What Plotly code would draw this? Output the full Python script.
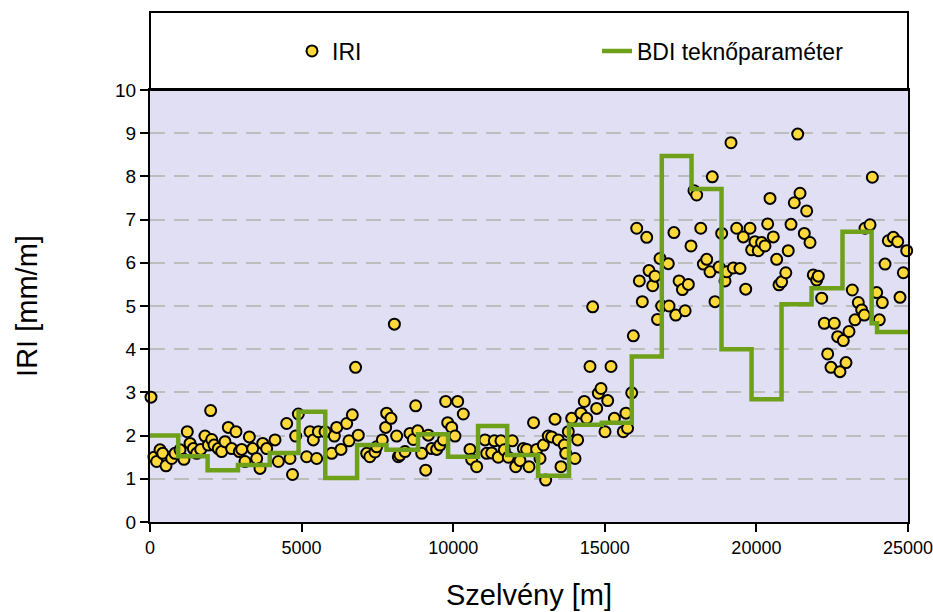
import plotly.graph_objects as go

# IRI measurements: chainage [m] and IRI [mm/m]
iri_x = [33, 132, 220, 330, 418, 528, 715, 825, 990, 1121, 1230, 1320, 1430, 1540, 1672, 1814, 1924, 2000, 2035, 2111,
         2253, 2363, 2473, 2583, 2693, 2836, 2946, 3024, 3133, 3276, 3386, 3518, 3628, 3717, 3848,
         4123, 4233, 4508, 4617, 4700, 4804, 4892, 5167, 5277, 5387, 5497, 5552, 5772, 5992, 6080, 6157, 6300,
         6487, 6563, 6673, 6780, 6870, 7147, 7250, 7420, 7475, 7662, 7772, 7805, 7948, 8060, 8135, 8190,
         8245, 8410, 8575, 8685, 8762, 8830, 8961, 9093, 9181, 9291, 9456, 9565, 9675, 9752, 9818, 9950, 10059,
         10148, 10333, 10554, 10609, 10774, 11049, 11104, 11269, 11357, 11487, 11576, 11685, 11817, 11949, 12061,
         12203, 12313, 12423, 12500, 12650, 12753, 12863, 12972, 13050, 13137, 13247, 13358, 13467, 13555, 13665,
         13710, 13797, 13908, 14017, 14105, 14215, 14324, 14402, 14512, 14600, 14732, 14787, 14875, 15007, 15095,
         15205, 15316, 15610, 15698, 15750, 15887, 15941,
         16052, 16139, 16237, 16382, 16458, 16580, 16655, 16740, 16821, 16876, 17094, 17118, 17280, 17340, 17450,
         17560, 17650, 17755, 17843, 17942, 18030, 18165, 18250, 18361, 18470, 18545, 18635, 18770, 18855, 18964,
         19020, 19162, 19238, 19349, 19459, 19568, 19647, 19789, 19843, 19953, 20062, 20172, 20283, 20372, 20449,
         20557, 20668, 20745, 20833, 20970, 21050,
         21141, 21250, 21362, 21438, 21580, 21658, 21768, 21877, 21987, 22042, 22153, 22240, 22351, 22460, 22570,
         22681, 22757, 22867, 22955, 23054, 23163, 23252, 23361, 23473, 23559, 23582, 23747, 23824, 23967, 24054,
         24153, 24242, 24351, 24516, 24660, 24736, 24846, 24957]
iri_y = [2.89, 1.50, 1.40, 1.67, 1.59, 1.30, 1.47, 1.59, 1.67, 1.45, 2.09, 1.82, 1.70, 1.59, 1.68, 1.99, 1.78, 2.58, 1.91, 1.78,
         1.70, 1.63, 1.86, 2.19, 1.70, 2.09, 1.63, 1.68, 1.40, 1.97, 1.70, 1.47, 1.24, 1.82, 1.70,
         1.90, 1.40, 2.28, 1.47, 1.10, 1.99, 2.50, 1.51, 2.09, 1.90, 1.47, 2.09, 2.09, 1.59, 1.99, 2.19, 1.68,
         2.28, 1.88, 2.48, 3.58, 2.01, 1.59, 1.51, 1.62, 1.74, 1.90, 2.19, 2.52, 2.40, 4.58, 1.99, 1.51,
         1.55, 1.63, 2.05, 1.91, 2.69, 2.11, 1.59, 1.20, 2.01, 1.70, 1.68, 1.78, 1.90, 2.79, 2.30, 2.19, 1.99,
         2.79, 2.50, 1.68, 1.45, 1.28, 1.90, 1.59, 1.60, 1.88, 1.50, 1.88, 1.67, 1.50, 1.88, 1.28,
         1.42, 1.70, 1.68, 1.28, 2.30, 1.68, 1.47, 1.78, 0.97, 1.99, 1.97, 2.38, 1.90, 1.28, 1.78,
         1.59, 2.09, 2.40, 1.47, 1.90, 2.52, 2.79, 2.40, 3.60, 4.98, 2.63, 2.98, 3.09, 2.09, 2.81,
         3.60, 2.40, 2.09, 2.52, 2.17, 2.99, 4.31,
         6.80, 5.58, 5.10, 6.59, 5.82, 5.47, 5.69, 4.69, 6.10, 5.00, 5.98, 5.00, 6.70, 4.79, 5.58,
         5.38, 4.89, 5.50, 6.39, 7.67, 7.57, 6.80, 5.97, 6.08, 5.79, 7.99, 5.10, 5.90, 6.68, 5.58,
         5.79, 8.78, 5.88, 6.80, 5.87, 6.60, 5.39, 6.80, 6.30, 6.49, 6.28, 6.47, 6.39, 6.90, 7.49,
         6.60, 6.08, 5.49, 5.56, 5.77, 6.28,
         6.89, 7.39, 8.98, 7.61, 6.68, 7.20, 6.47, 5.72, 5.60, 5.69, 5.18, 4.60, 3.89, 3.58, 4.60,
         4.29, 3.48, 4.20, 3.69, 4.41, 5.37, 4.68, 5.08, 4.91, 4.79, 6.80, 6.88, 7.98, 5.31, 4.68,
         5.08, 5.97, 6.51, 6.59, 6.49, 5.20, 5.77, 6.28]

# BDI trough parameter: section start chainage [m] and value
bdi_x = [0, 930, 1900, 2900, 3950, 4900, 5780, 6830, 7800, 8840, 9830, 10820, 11780, 12800, 13820, 14900,
         15890, 16880, 17860, 18850, 19840, 20830, 21820, 22840, 23800, 23980, 25000]
bdi_y = [2.0, 1.52, 1.2, 1.32, 1.6, 2.55, 1.02, 1.78, 1.67, 2.03, 1.51, 2.22, 1.55, 1.07, 2.25, 2.3,
         3.83, 8.47, 7.71, 4.0, 2.84, 5.04, 5.41, 6.72, 4.6, 4.4, 4.4]

x_ticks = [0, 5000, 10000, 15000, 20000, 25000]
y_ticks = list(range(0, 11))

FONT = "Liberation Sans, Arial, sans-serif"

fig = go.Figure()
fig.add_trace(go.Scatter(
    x=iri_x, y=iri_y, mode="markers", name="IRI", cliponaxis=False,
    marker=dict(size=11, color="#FFD83A", line=dict(color="black", width=2)),
))
fig.add_trace(go.Scatter(
    x=bdi_x, y=bdi_y, mode="lines", name="BDI teknőparaméter", line_shape="hv",
    line=dict(color="#6FA019", width=4.5),
))

top_paper = (522 - 12) / 432

fig.update_layout(
    width=933, height=612,
    margin=dict(l=150, r=25, t=90, b=90, autoexpand=False),
    paper_bgcolor="white",
    plot_bgcolor="#E1DFF4",
    font=dict(family=FONT, color="black"),
    showlegend=True,
    legend=dict(
        orientation="h", x=(292 - 150) / 758, xanchor="left", y=(522 - 51) / 432, yanchor="middle",
        entrywidth=260, entrywidthmode="pixels",
        font=dict(family=FONT, size=23, color="black"),
        bgcolor="rgba(0,0,0,0)",
    ),
    xaxis=dict(
        range=[0, 25000], tickvals=x_ticks, ticktext=[str(v) for v in x_ticks],
        showgrid=False, zeroline=False, automargin=False,
        showline=True, linecolor="black", linewidth=2, mirror=True,
        ticks="outside", ticklen=8, tickwidth=2, tickcolor="black",
        tickfont=dict(family=FONT, size=18),
        ticklabeloverflow="allow",
        title=dict(text="Szelvény [m]", font=dict(family=FONT, size=29), standoff=28),
    ),
    yaxis=dict(
        range=[0, 10], tickvals=y_ticks, automargin=False,
        showgrid=True, gridcolor="#BDBDBD", gridwidth=2, griddash="15px,9px",
        zeroline=False,
        showline=True, linecolor="black", linewidth=2, mirror=True,
        ticks="outside", ticklen=8, tickwidth=2, tickcolor="black",
        tickfont=dict(family=FONT, size=19),
        title=dict(text="IRI [mm/m]", font=dict(family=FONT, size=29), standoff=69),
    ),
    shapes=[
        dict(type="rect", xref="paper", yref="paper", x0=0, x1=1, y0=1, y1=top_paper,
             line=dict(color="black", width=2), fillcolor="rgba(0,0,0,0)", layer="above"),
    ],
)

fig.write_html("out.html")
